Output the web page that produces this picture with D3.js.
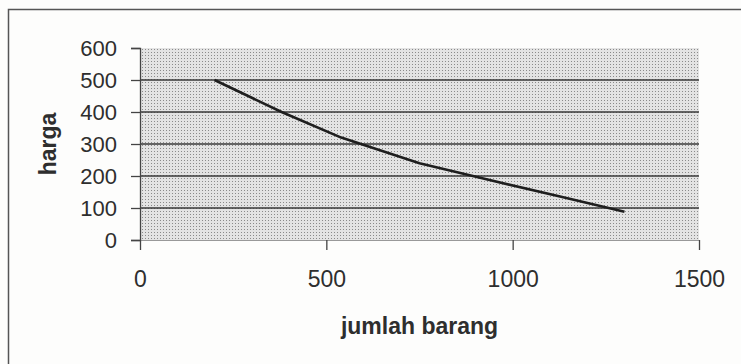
<!DOCTYPE html>
<html>
<head>
<meta charset="utf-8">
<script src="https://cdn.jsdelivr.net/npm/d3@7"></script>
<style>
  html, body { margin: 0; padding: 0; background: #fdfdfc; }
  svg { display: block; }
  text { font-family: "Liberation Sans", Arial, sans-serif; fill: #2e2e2e; }
</style>
</head>
<body>
<svg id="chart" width="741" height="364"></svg>
<script>
// Demand curve: quantity (jumlah barang) vs price (harga)
const jumlah = [200, 380, 540, 750, 910, 1130, 1300];
const harga  = [500, 400, 320, 240, 195, 135, 88];

const xTicks = [0, 500, 1000, 1500];
const yTicks = [0, 100, 200, 300, 400, 500, 600];
const xTitle = "jumlah barang";
const yTitle = "harga";

const svg = d3.select("#chart");
const W = 741, H = 364;
const plot = { left: 140, right: 699, top: 48, bottom: 240 };

const x = d3.scaleLinear().domain([0, 1500]).range([plot.left, plot.right]);
const y = d3.scaleLinear().domain([0, 600]).range([plot.bottom, plot.top]);

// Chart frame (left and top edges)
svg.append("path")
  .attr("d", `M8.5,${H} L8.5,9.5 L${W},9.5`)
  .attr("fill", "none")
  .attr("stroke", "#555")
  .attr("stroke-width", 1.5);

// Dotted fill for the plot area
const defs = svg.append("defs");
const pat = defs.append("pattern")
  .attr("id", "dots")
  .attr("width", 3).attr("height", 3)
  .attr("patternUnits", "userSpaceOnUse");
pat.append("rect").attr("width", 3).attr("height", 3).attr("fill", "#e3e3e3");
pat.append("rect").attr("x", 1).attr("y", 1).attr("width", 1).attr("height", 1).attr("fill", "#8a8a8a");

svg.append("rect")
  .attr("x", plot.left).attr("y", plot.top)
  .attr("width", plot.right - plot.left)
  .attr("height", plot.bottom - plot.top)
  .attr("fill", "url(#dots)");

// Horizontal gridlines
svg.append("g")
  .selectAll("line")
  .data(yTicks.filter(v => v > 0 && v < 600))
  .join("line")
  .attr("x1", plot.left).attr("x2", plot.right)
  .attr("y1", d => y(d)).attr("y2", d => y(d))
  .attr("stroke", "#383838")
  .attr("stroke-width", 1.6);

// Y axis
const yAxis = svg.append("g")
  .attr("transform", `translate(${plot.left},0)`)
  .call(d3.axisLeft(y).tickValues(yTicks).tickSize(9).tickPadding(14));
yAxis.select(".domain").attr("stroke", "#444").attr("stroke-width", 1.3);
yAxis.selectAll(".tick line").attr("stroke", "#444").attr("stroke-width", 1.3);
yAxis.selectAll(".tick text")
  .attr("font-size", 22)
  .attr("font-family", "Liberation Sans, Arial, sans-serif")
  .attr("fill", "#333");

// X axis
const xAxis = svg.append("g")
  .attr("transform", `translate(0,${plot.bottom})`)
  .call(d3.axisBottom(x).tickValues(xTicks).tickSize(10).tickPadding(21).tickFormat(d3.format("d")));
xAxis.select(".domain").attr("stroke", "#999").attr("stroke-width", 1);
xAxis.selectAll(".tick line").attr("stroke", "#444").attr("stroke-width", 1.3);
xAxis.selectAll(".tick text")
  .attr("font-size", 23)
  .attr("font-family", "Liberation Sans, Arial, sans-serif")
  .attr("fill", "#333");

// Demand line
const pts = jumlah.map((q, i) => [q, harga[i]]);
svg.append("path")
  .datum(pts)
  .attr("fill", "none")
  .attr("stroke", "#1e1e1e")
  .attr("stroke-width", 2.6)
  .attr("stroke-linejoin", "round")
  .attr("d", d3.line().x(d => x(d[0])).y(d => y(d[1])));

// Axis titles
svg.append("text")
  .attr("x", (plot.left + plot.right) / 2)
  .attr("y", 334)
  .attr("text-anchor", "middle")
  .attr("font-size", 23)
  .attr("font-weight", "bold")
  .text(xTitle);

svg.append("text")
  .attr("transform", `translate(56,${(plot.top + plot.bottom) / 2}) rotate(-90)`)
  .attr("text-anchor", "middle")
  .attr("font-size", 23)
  .attr("font-weight", "bold")
  .text(yTitle);
</script>
</body>
</html>
